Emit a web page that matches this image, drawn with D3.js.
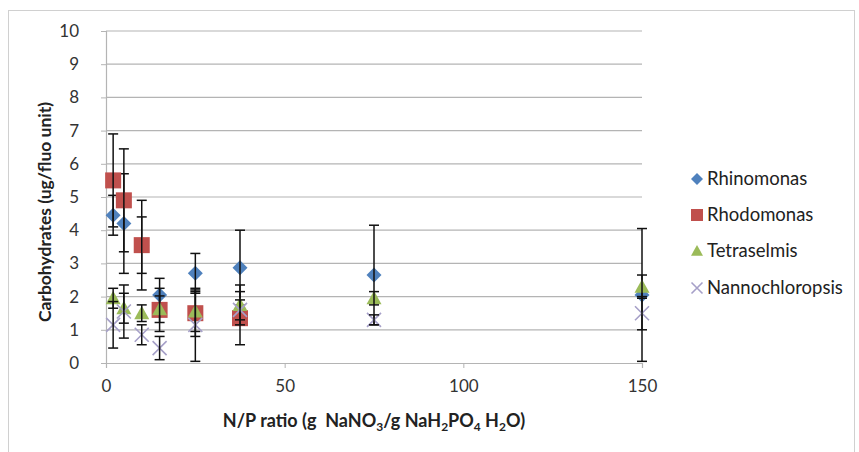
<!DOCTYPE html>
<html><head><meta charset="utf-8">
<script src="https://cdn.jsdelivr.net/npm/d3@7"></script>
<style>
body{margin:0;background:#fff;}
text{font-family:Lato,"Open Sans",sans-serif;}
</style></head>
<body><svg id="c" width="859" height="452"></svg>
<script>
const xValues = [2, 5, 10, 15, 25, 37.5, 75, 150];
const seriesNames = ["Rhinomonas", "Rhodomonas", "Tetraselmis", "Nannochloropsis"];
const rhinomonas = [4.45, 4.2, 3.55, 2.05, 2.7, 2.87, 2.65, 2.05];
const rhinomonasErr = [0.6, 1.5, 0.85, 0.5, 0.6, 1.13, 1.5, 2.0];
const rhodomonas = [5.5, 4.9, 3.55, 1.6, 1.5, 1.35, null, null];
const rhodomonasErr = [1.4, 1.55, 1.35, 0.65, 0.7, 0.8, null, null];
const tetraselmis = [1.95, 1.65, 1.5, 1.62, 1.55, 1.75, 1.95, 2.3];
const tetraselmisErr = [0.3, 0.45, 0.25, 0.4, 0.6, 0.6, 0.2, 0.35];
const nannochloropsis = [1.15, 1.55, 0.85, 0.45, 1.15, 1.6, 1.3, 1.5];
const nannochloropsisErr = [0.7, 0.8, 0.3, 0.35, 1.1, 0.3, 0.15, 0.5];
const xTicks = [0, 50, 100, 150];
const yTicks = [0,1,2,3,4,5,6,7,8,9,10];

const colors = ["#4F81BD", "#C0504D", "#9BBB59", "#A6A0C8"];
const shapes = ["diamond", "square", "triangle", "cross"];
const values = [rhinomonas, rhodomonas, tetraselmis, nannochloropsis];
const errs = [rhinomonasErr, rhodomonasErr, tetraselmisErr, nannochloropsisErr];

const svg = d3.select("#c");
svg.append("rect").attr("x",8.5).attr("y",10.5).attr("width",846).attr("height",460)
  .attr("fill","none").attr("stroke","#d0d0d0");

const x = d3.scaleLinear().domain([0,150]).range([106,642]);
const y = d3.scaleLinear().domain([0,10]).range([363,31]);

svg.append("g").selectAll("line").data(yTicks.filter(d=>d>0)).join("line")
  .attr("x1",x(0)).attr("x2",x(150)).attr("y1",d=>y(d)).attr("y2",d=>y(d))
  .attr("stroke","#b4b4b4").attr("stroke-width",1.2);

const yAxis = d3.axisLeft(y).tickValues(yTicks).tickSize(5).tickPadding(22).tickFormat(d3.format("d"));
const gy = svg.append("g").attr("transform","translate(106,0)").call(yAxis);
gy.select(".domain").attr("stroke","#b4b4b4").attr("stroke-width",1.2);
gy.selectAll(".tick line").attr("stroke","#b4b4b4");
gy.selectAll(".tick text").attr("font-size",17).attr("fill","#333").attr("font-family","Lato,sans-serif");

const xAxis = d3.axisBottom(x).tickValues(xTicks).tickSize(5).tickPadding(12);
const gx = svg.append("g").attr("transform","translate(0,363)").call(xAxis);
gx.select(".domain").attr("stroke","#b4b4b4").attr("stroke-width",1.2);
gx.selectAll(".tick line").attr("stroke","#b4b4b4");
gx.selectAll(".tick text").attr("font-size",17).attr("fill","#333").attr("font-family","Lato,sans-serif");

svg.append("text").attr("transform","translate(51,212) rotate(-90)").attr("text-anchor","middle")
  .attr("font-size",17.5).attr("font-weight","bold").attr("fill","#222").text("Carbohydrates (ug/fluo unit)");

const xt = svg.append("text").attr("x",374).attr("y",427).attr("text-anchor","middle")
  .attr("font-size",18).attr("font-weight","bold").attr("fill","#222");
xt.append("tspan").text("N/P ratio (g\u00a0 NaNO");
xt.append("tspan").attr("font-size",12).attr("dy",4).text("3");
xt.append("tspan").attr("dy",-4).text("/g NaH");
xt.append("tspan").attr("font-size",12).attr("dy",4).text("2");
xt.append("tspan").attr("dy",-4).text("PO");
xt.append("tspan").attr("font-size",12).attr("dy",4).text("4");
xt.append("tspan").attr("dy",-4).text(" H");
xt.append("tspan").attr("font-size",12).attr("dy",4).text("2");
xt.append("tspan").attr("dy",-4).text("O)");

function marker(g, shape, color, cx, cy, s){
  if(shape==="diamond"){
    g.append("path").attr("d",`M${cx},${cy-s}L${cx+s},${cy}L${cx},${cy+s}L${cx-s},${cy}Z`).attr("fill",color);
  } else if(shape==="square"){
    g.append("rect").attr("x",cx-s).attr("y",cy-s).attr("width",2*s).attr("height",2*s).attr("fill",color);
  } else if(shape==="triangle"){
    g.append("path").attr("d",`M${cx},${cy-s}L${cx+s},${cy+s*0.8}L${cx-s},${cy+s*0.8}Z`).attr("fill",color);
  } else {
    g.append("path").attr("d",`M${cx-s},${cy-s}L${cx+s},${cy+s}M${cx+s},${cy-s}L${cx-s},${cy+s}`)
      .attr("stroke",color).attr("stroke-width",1.6).attr("fill","none");
  }
}
const sizes = [7.5, 8, 7.5, 7];

const plot = svg.append("g");
values.forEach((vals, si)=>{
  const g = plot.append("g");
  xValues.forEach((xv,i)=>{
    const v = vals[i]; if(v==null) return;
    marker(g, shapes[si], colors[si], x(xv), y(v), sizes[si]);
  });
  xValues.forEach((xv,i)=>{
    const v = vals[i], e = errs[si][i]; if(v==null) return;
    const cx = x(xv);
    g.append("line").attr("x1",cx).attr("x2",cx).attr("y1",y(v+e)).attr("y2",y(Math.max(0,v-e)))
      .attr("stroke","#111").attr("stroke-width",1.5);
    [v+e, Math.max(0,v-e)].forEach(t=>{
      g.append("line").attr("x1",cx-5).attr("x2",cx+5).attr("y1",y(t)).attr("y2",y(t))
        .attr("stroke","#111").attr("stroke-width",1.5);
    });
  });
});

const legY = [179, 215, 251, 288];
const leg = svg.append("g");
seriesNames.forEach((n,i)=>{
  const g = leg.append("g");
  marker(g, shapes[i], colors[i], 697, legY[i], i===3?5.5:6);
  g.append("text").attr("x",707).attr("y",legY[i]+6).attr("font-size",18.5).attr("fill","#222").text(n);
});
</script></body></html>
